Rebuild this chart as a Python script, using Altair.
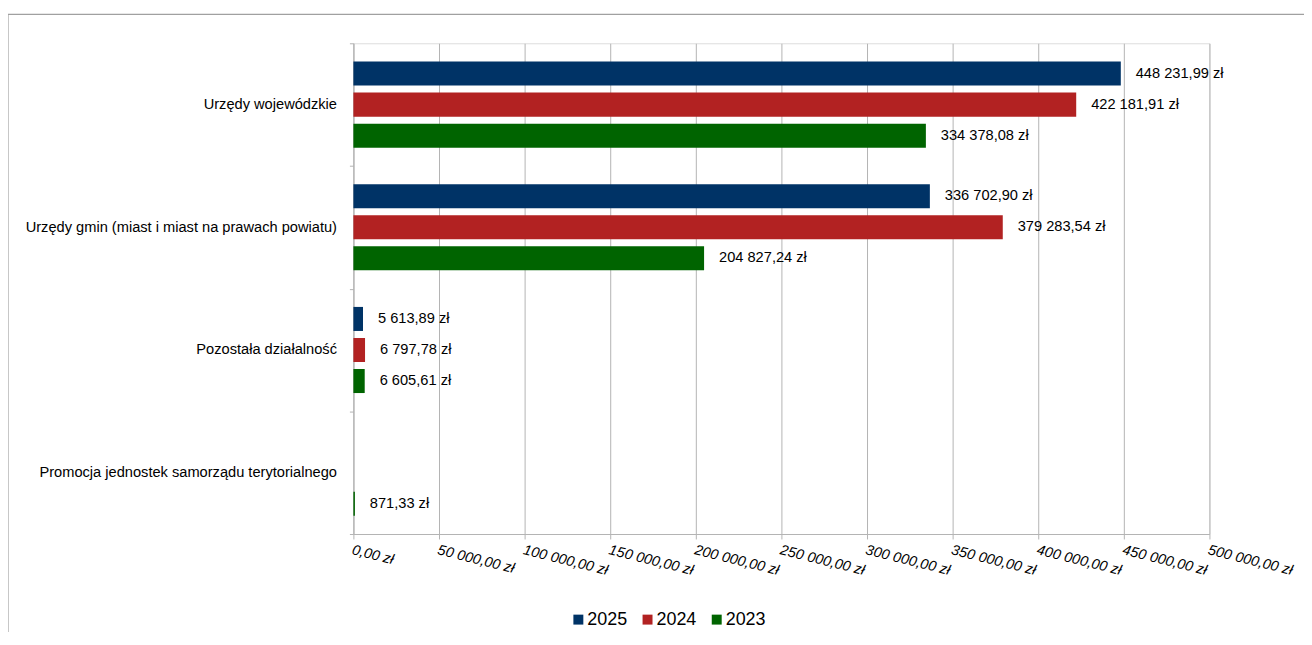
import altair as alt
import pandas as pd

categories = [
    "Urzędy wojewódzkie",
    "Urzędy gmin (miast i miast na prawach powiatu)",
    "Pozostała działalność",
    "Promocja jednostek samorządu terytorialnego",
]
years = ["2025", "2024", "2023"]
v2025 = [448231.99, 336702.90, 5613.89, None]
v2024 = [422181.91, 379283.54, 6797.78, None]
v2023 = [334378.08, 204827.24, 6605.61, 871.33]
colors = ["#003366", "#b22222", "#006400"]
x_ticks = [0, 50000, 100000, 150000, 200000, 250000, 300000, 350000, 400000, 450000, 500000]


def pl_money(v):
    s = f"{v:,.2f}".replace(",", " ").replace(".", ",")
    return s + " zł"


rows = []
for yr, vals in zip(years, [v2025, v2024, v2023]):
    for cat, v in zip(categories, vals):
        if v is None:
            continue
        rows.append({"cat": cat, "year": yr, "value": v, "label": pl_money(v)})
df = pd.DataFrame(rows)

FONT = "Liberation Sans"
GRID = "#b3b3b3"
FS = 14.7

y_enc = alt.Y(
    "cat:N",
    sort=categories,
    scale=alt.Scale(paddingInner=0, paddingOuter=0),
    axis=alt.Axis(
        title=None,
        tickBand="extent",
        tickSize=4,
        tickColor=GRID,
        domainColor=GRID,
        labelPadding=13,
        labelFont=FONT,
        labelFontSize=FS,
        labelColor="#000000",
        labelLimit=400,
        grid=False,
    ),
)
yoff_enc = alt.YOffset(
    "year:N",
    sort=years,
    scale=alt.Scale(domain=years, paddingInner=0.2258, paddingOuter=0.589),
)
x_enc = alt.X(
    "value:Q",
    scale=alt.Scale(domain=[0, 500000], nice=False),
    axis=alt.Axis(
        title=None,
        values=x_ticks,
        grid=True,
        gridColor=GRID,
        tickColor=GRID,
        domainColor=GRID,
        tickSize=5,
        labelAngle=14,
        labelAlign="left",
        labelBaseline="top",
        labelPadding=4,
        labelFont=FONT,
        labelFontSize=14.5,
        labelFontStyle="italic",
        labelColor="#000000",
        labelOverlap=False,
        labelFlush=False,
        labelExpr="replace(replace(format(datum.value, ',.2f'), ',', ' '), '.', ',') + ' zł'",
    ),
)

bars = alt.Chart(df).mark_bar(stroke=None).encode(
    y=y_enc,
    yOffset=yoff_enc,
    x=x_enc,
    color=alt.Color(
        "year:N",
        sort=years,
        scale=alt.Scale(domain=years, range=colors),
        legend=alt.Legend(
            title=None,
            orient="none",
            legendX=217,
            legendY=570,
            direction="horizontal",
            symbolType="square",
            symbolSize=100,
            symbolStrokeWidth=0,
            labelFont=FONT,
            labelFontSize=18,
            labelColor="#000000",
            labelOffset=0,
            columnPadding=10.5,
        ),
    ),
)

texts = alt.Chart(df).mark_text(
    align="left", baseline="middle", dx=15, font=FONT, fontSize=FS, color="#000000"
).encode(
    y=alt.Y("cat:N", sort=categories),
    yOffset=alt.YOffset("year:N", sort=years),
    x=alt.X("value:Q"),
    text="label:N",
)

frame_df = pd.DataFrame({"k": [0]})
frame_top = alt.Chart(frame_df).mark_rule(color="#a0a0a0", strokeWidth=1.2).encode(
    x=alt.value(-347), x2=alt.value(960), y=alt.value(-29)
)
frame_left = alt.Chart(frame_df).mark_rule(color="#a0a0a0", strokeWidth=1.2).encode(
    x=alt.value(-347), y=alt.value(-29), y2=alt.value(600)
)

chart = (
    alt.layer(bars, texts, frame_top, frame_left)
    .properties(
        width=860,
        height=493,
        autosize=alt.AutoSizeParams(type="none"),
        padding={"left": 347, "top": 34, "right": 95, "bottom": 97},
    )
    .configure_view(stroke=None)
    .configure(background="#ffffff")
)

chart.save("out.html", embed_options={"renderer": "svg", "actions": False})
